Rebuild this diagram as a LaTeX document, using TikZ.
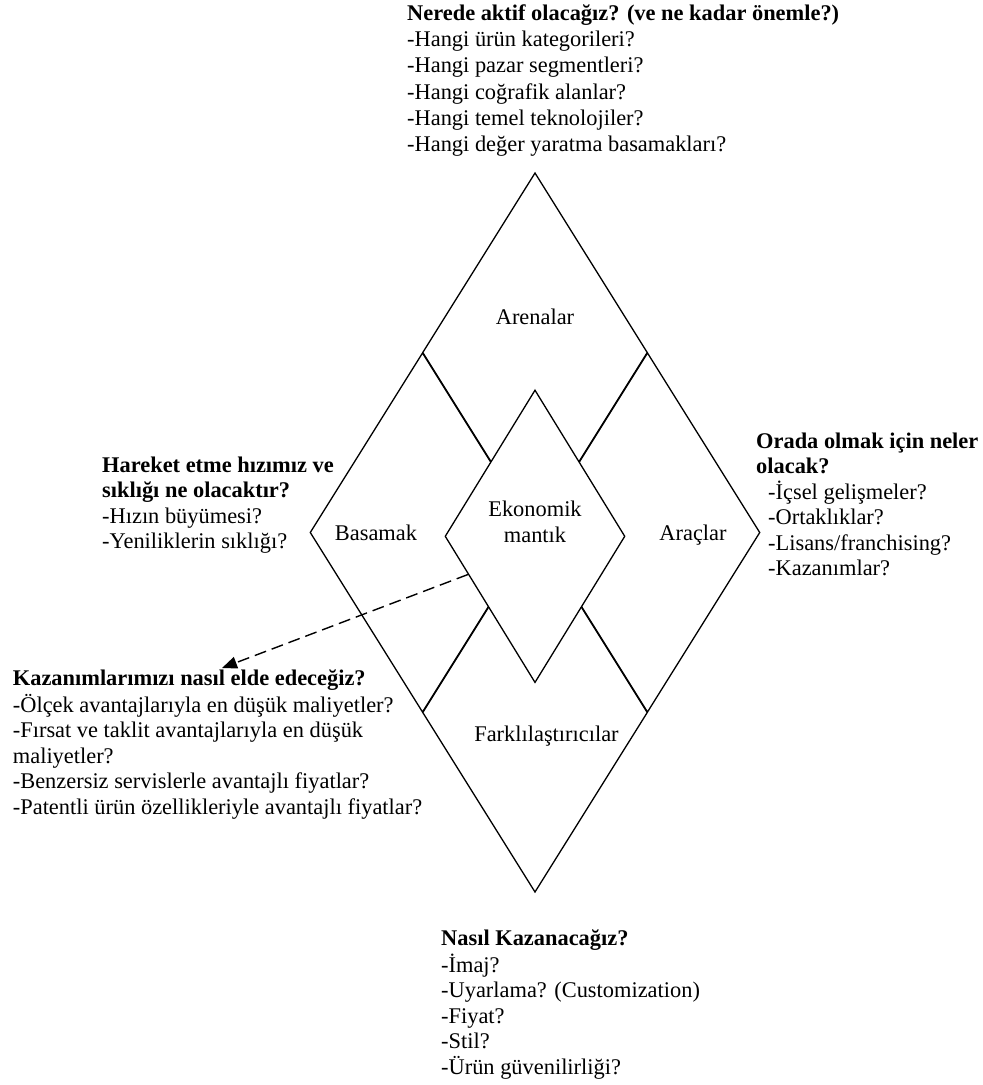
\documentclass[tikz,border=0pt]{standalone}
\usepackage{fontspec}
\setmainfont{Liberation Serif}
\usetikzlibrary{shapes.geometric,arrows.meta,calc}

\begin{document}
\begin{tikzpicture}[x=1pt,y=-1pt,
  facet/.style={diamond,draw,line width=1.3pt,inner sep=0pt,
    minimum width=225pt,minimum height=359.5pt},
  core/.style={diamond,draw,fill=white,line width=1.3pt,inner sep=0pt,
    minimum width=180pt,minimum height=292.7pt},
  facetname/.style={font=\fontsize{22.4}{26}\selectfont,align=center,inner sep=0pt},
  qblock/.style={font=\fontsize{22.4}{25.5}\selectfont,align=left,
    anchor=north west,inner sep=0pt},
  pointer/.style={line width=1.4pt,dash pattern=on 12pt off 6pt,
    -{Triangle[length=15pt,width=12pt]}},
]
% page
\fill[white] (0,0) rectangle (983,1085);
\useasboundingbox (0,0) rectangle (983,1085);

% the four outer facets of the strategy diamond
\node[facet] (arenas) at (535,352.5) {};
\node[facet] (stages) at (422.5,532.5) {};
\node[facet] (vehicles) at (647.5,532.5) {};
\node[facet] (diff) at (535,712.5) {};
% economic logic in the middle
\node[core] (logic) at (535,536.3) {};

% facet names
\node[facetname,anchor=base] (arenasname) at (535,324) {Arenalar};
\node[facetname,anchor=base] (stagesname) at (376,540) {Basamak};
\node[facetname,anchor=base] (vehiclesname) at (693,540) {Araçlar};
\node[facetname,anchor=north] (logicname) at (535,498.5) {\strut Ekonomik\\mantık};
\node[facetname,anchor=base] (diffname) at (546.5,741.7) {Farklılaştırıcılar};

% guiding questions
\node[qblock,font=\fontsize{22.4}{26.3}\selectfont] (arenasq) at (407,1.6) {\strut\textbf{Nerede aktif olacağız? (ve ne kadar önemle?)}\\
  -Hangi ürün kategorileri?\\
  -Hangi pazar segmentleri?\\
  -Hangi coğrafik alanlar?\\
  -Hangi temel teknolojiler?\\
  -Hangi değer yaratma basamakları?};

\node[qblock] (vehiclesq) at (756,430.2) {\strut\textbf{Orada olmak için neler}\\
  \textbf{olacak?}\\
  \hspace*{12pt}-İçsel gelişmeler?\\
  \hspace*{12pt}-Ortaklıklar?\\
  \hspace*{12pt}-Lisans/franchising?\\
  \hspace*{12pt}-Kazanımlar?};

\node[qblock] (stagesq) at (102,454) {\strut\textbf{Hareket etme hızımız ve}\\
  \textbf{sıklığı ne olacaktır?}\\
  -Hızın büyümesi?\\
  -Yeniliklerin sıklığı?};

\node[qblock] (logicq) at (12.7,667.2) {\strut\textbf{Kazanımlarımızı nasıl elde edeceğiz?}\\
  -Ölçek avantajlarıyla en düşük maliyetler?\\
  -Fırsat ve taklit avantajlarıyla en düşük\\
  maliyetler?\\
  -Benzersiz servislerle avantajlı fiyatlar?\\
  -Patentli ürün özellikleriyle avantajlı fiyatlar?};

\node[qblock] (diffq) at (441,927.2) {\strut\textbf{Nasıl Kazanacağız?}\\
  -İmaj?\\
  -Uyarlama? (Customization)\\
  -Fiyat?\\
  -Stil?\\
  -Ürün güvenilirliği?};

% dashed pointer from the economic logic to its questions
\coordinate (logictip) at (222,668);
\draw[pointer] ($(logic.west)!0.26!(logic.south)$) -- (logictip);
\end{tikzpicture}
\end{document}
